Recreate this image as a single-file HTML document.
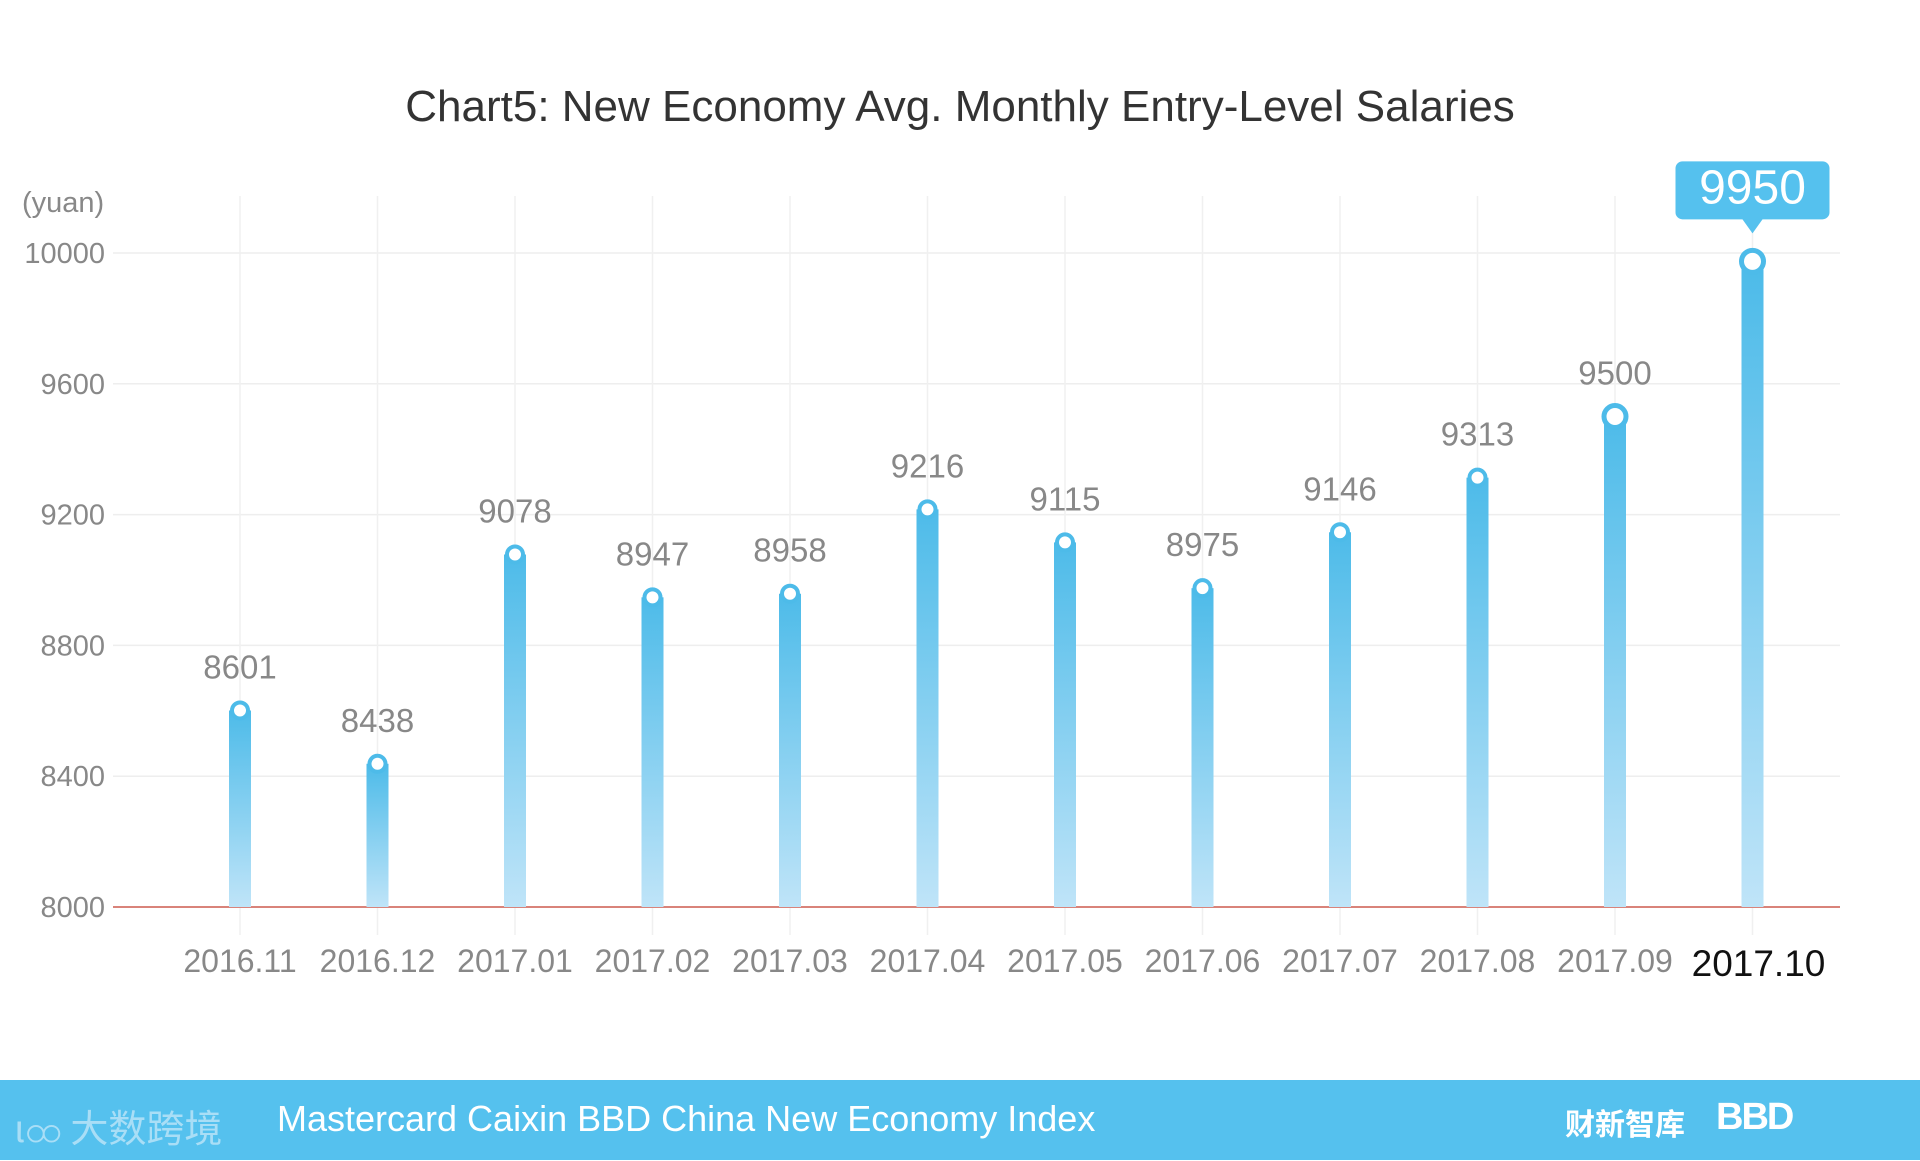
<!DOCTYPE html>
<html><head><meta charset="utf-8"><style>
html,body{margin:0;padding:0;background:#fff;}
body{width:1920px;height:1160px;position:relative;overflow:hidden;font-family:"Liberation Sans","Noto Sans CJK SC",sans-serif;}
#footer{position:absolute;left:0;top:1080px;width:1920px;height:80px;background:#55c1ee;}
</style></head><body>
<svg id="chart" width="1920" height="1080" style="position:absolute;left:0;top:0">
<text x="960" y="121" text-anchor="middle" font-size="44" fill="#333">Chart5:  New Economy Avg. Monthly Entry-Level Salaries</text>
<text x="22" y="212" font-size="29" fill="#888">(yuan)</text>
<defs><linearGradient id="bg" x1="0" y1="0" x2="0" y2="1"><stop offset="0" stop-color="#4dbbe9"/><stop offset="1" stop-color="#bfe4f8"/></linearGradient></defs>
<g id="grid"></g><g id="bars"></g>
</svg>
<div id="footer">
<div style="position:absolute;left:14px;top:18px;color:#a9def6;font-size:38px;font-family:'Noto Sans CJK SC',sans-serif;">ιထ 大数跨境</div>
<div style="position:absolute;left:277px;top:18px;color:#fff;font-size:36px;">Mastercard Caixin BBD China New Economy Index</div>
<div style="position:absolute;left:1565px;top:20px;color:#fff;font-size:30px;font-weight:bold;font-family:'Noto Sans CJK SC',sans-serif;">财新智库</div>
<div style="position:absolute;left:1716px;top:16px;color:#fff;font-size:38px;font-weight:bold;letter-spacing:-2px;">BBD</div>
</div>
<script>
const categories=["2016.11","2016.12","2017.01","2017.02","2017.03","2017.04","2017.05","2017.06","2017.07","2017.08","2017.09","2017.10"];
const values=[8601,8438,9078,8947,8958,9216,9115,8975,9146,9313,9500,9950];
const yTicks=[8000,8400,8800,9200,9600,10000];
const NS="http://www.w3.org/2000/svg";
const X0=240,STEP=137.5,Y0=907,YMIN=8000,YMAX=10000,YH=654;
const x=i=>X0+i*STEP;
const y=v=>Y0-(v-YMIN)/(YMAX-YMIN)*YH;
function mk(t,a,p){const e=document.createElementNS(NS,t);for(const k in a)e.setAttribute(k,a[k]);p.appendChild(e);return e;}
const g=document.getElementById('grid'),b=document.getElementById('bars');
yTicks.forEach(t=>{
  if(t!==YMIN){const l=mk('line',{x1:113,x2:1840,y1:y(t),y2:y(t),stroke:'#eeeeee','stroke-width':1.5},g);
  
  }
  const tx=mk('text',{x:105,y:y(t)+10,'text-anchor':'end','font-size':29,fill:'#888'},g);
  tx.textContent=t;
  
  
});
categories.forEach((c,i)=>{
  const l=mk('line',{x1:x(i),x2:x(i),y1:196,y2:935,stroke:'#f0f0f0','stroke-width':1.5},g);
  
  
  const last=i===categories.length-1;
  const tx=mk('text',{x:x(i)+(last?6:0),y:last?976:972,'text-anchor':'middle','font-size':last?37:32,fill:last?'#111':'#888'},g);
  tx.textContent=c;
  
  
});
const ax=mk('line',{x1:113,x2:1840,y1:Y0,y2:Y0,stroke:'#d9837a','stroke-width':2},g);


values.forEach((v,i)=>{
  const last=i===values.length-1, big=i>=values.length-2;
  const r=mk('rect',{x:x(i)-11,y:y(v),width:22,height:Y0-y(v),fill:'url(#bg)'},b);
  
  
  const cr=mk('circle',{cx:x(i),cy:y(v)+(last?-8:0),r:big?11:8,fill:'#fff',stroke:'#4dbbe9','stroke-width':big?5:4},b);
  
  
  if(!last){
    const t=mk('text',{x:x(i),y:y(v)-32,'text-anchor':'middle','font-size':33,fill:'#888'},b);
    t.textContent=v;
    
    
  } else {
    const cx=x(i),cy=y(v)-8;
    const p=mk('path',{d:`M${cx-70} ${cy-100} h140 a7 7 0 0 1 7 7 v44 a7 7 0 0 1 -7 7 h-60 l-10 14 l-10 -14 h-60 a7 7 0 0 1 -7 -7 v-44 a7 7 0 0 1 7 -7z`,fill:'#55c1ee'},b);
    
    
    const t=mk('text',{x:cx,y:cy-58,'text-anchor':'middle','font-size':48,fill:'#fff'},b);
    t.textContent=v;
    
    
  }
});
</script>
</body></html>
